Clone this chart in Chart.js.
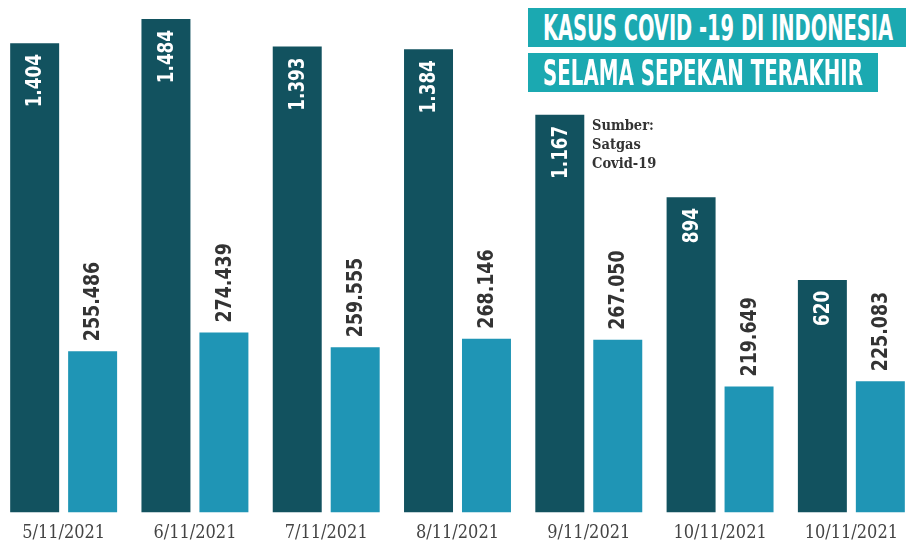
<!DOCTYPE html>
<html>
<head>
<meta charset="utf-8">
<script src="https://cdn.jsdelivr.net/npm/chart.js@4.4.1/dist/chart.umd.min.js"></script>
<style>
  html, body { margin: 0; padding: 0; background: #fff; }
  #wrap { position: relative; width: 919px; height: 542px; overflow: hidden; }
  #chart { position: absolute; left: -2px; top: 0; }
  .tbox { position: absolute; left: 528px; height: 39px; background: #1ba9b1; overflow: hidden; }
  .tbox span { position: absolute; left: 15px; top: 0; line-height: 39px; color: #fff;
    font-family: "Liberation Sans Narrow", "DejaVu Sans Condensed", sans-serif; font-weight: bold;
    font-size: 36px; white-space: nowrap; transform-origin: 0 50%; }
  #src { position: absolute; left: 592px; top: 115px; font-family: "DejaVu Serif Condensed", "DejaVu Serif", serif;
    font-weight: bold; font-size: 14.5px; line-height: 19px; color: #333; }
</style>
</head>
<body>
<div id="wrap">
  <canvas id="chart" width="922" height="542"></canvas>
  <div class="tbox" style="top:8px;width:378px"><span data-w="350">KASUS COVID -19 DI INDONESIA</span></div>
  <div class="tbox" style="top:53px;width:350px"><span data-w="320">SELAMA SEPEKAN TERAKHIR</span></div>
  <div id="src">Sumber:<br>Satgas<br>Covid-19</div>
</div>
<script>
// tanggal (label sumbu x, sesuai gambar asli)
const dates = ['5/11/2021', '6/11/2021', '7/11/2021', '8/11/2021', '9/11/2021', '10/11/2021', '10/11/2021'];
// kasus baru harian
const kasusBaru = [1404, 1484, 1393, 1384, 1167, 894, 620];
// jumlah spesimen diperiksa
const spesimen = [255486, 274439, 259555, 268146, 267050, 219649, 225083];

const DARK = '#12525f';
const LIGHT = '#1f95b5';
// the two series sit on their own (hidden) axes, bars start at the axis floor
const Y1_MIN = -150, Y1_MAX = 1484;
const Y2_MIN = 91800, Y2_MAX = 592800;

// fit title text into its box
document.querySelectorAll('.tbox span').forEach(s => {
  const w = s.getBoundingClientRect().width;
  s.style.transform = 'scaleX(' + (Number(s.dataset.w) / w) + ')';
});

function fmt(v) {
  return v.toString().replace(/\B(?=(\d{3})+(?!\d))/g, '.');
}

const valueLabels = {
  id: 'valueLabels',
  afterDatasetsDraw(chart) {
    const ctx = chart.ctx;
    chart.data.datasets.forEach((ds, di) => {
      const meta = chart.getDatasetMeta(di);
      meta.data.forEach((bar, i) => {
        const txt = fmt(ds.data[i]);
        ctx.save();
        ctx.font = 'bold 22px "Liberation Sans Narrow", "DejaVu Sans Condensed", sans-serif';
        ctx.textBaseline = 'middle';
        if (di === 0) {
          ctx.translate(bar.x + 1, bar.y + 11);
          ctx.rotate(-Math.PI / 2);
          ctx.scale(0.85, 1);
          ctx.textAlign = 'right';
          ctx.fillStyle = '#ffffff';
        } else {
          ctx.translate(bar.x + 1, bar.y - 10);
          ctx.rotate(-Math.PI / 2);
          ctx.scale(0.88, 1);
          ctx.textAlign = 'left';
          ctx.fillStyle = '#333333';
        }
        ctx.fillText(txt, 0, 0);
        ctx.restore();
      });
    });
  }
};

new Chart(document.getElementById('chart'), {
  type: 'bar',
  data: {
    labels: dates,
    datasets: [
      {label: 'Kasus baru', data: kasusBaru, backgroundColor: DARK, yAxisID: 'y', base: Y1_MIN,
       categoryPercentage: 0.883, barPercentage: 0.845},
      {label: 'Spesimen', data: spesimen, backgroundColor: LIGHT, yAxisID: 'y2', base: Y2_MIN,
       categoryPercentage: 0.883, barPercentage: 0.845}
    ]
  },
  options: {
    responsive: false,
    animation: false,
    layout: {padding: {top: 19, left: 0, right: 3, bottom: -12}},
    plugins: {legend: {display: false}, tooltip: {enabled: false}},
    scales: {
      x: {
        grid: {display: false, drawTicks: false},
        border: {display: false},
        ticks: {
          color: '#444',
          padding: 10,
          font: {family: '"DejaVu Serif Condensed", "DejaVu Serif", serif', size: 18}
        }
      },
      y: {display: false, min: Y1_MIN, max: Y1_MAX},
      y2: {display: false, min: Y2_MIN, max: Y2_MAX}
    }
  },
  plugins: [valueLabels]
});
</script>
</body>
</html>
